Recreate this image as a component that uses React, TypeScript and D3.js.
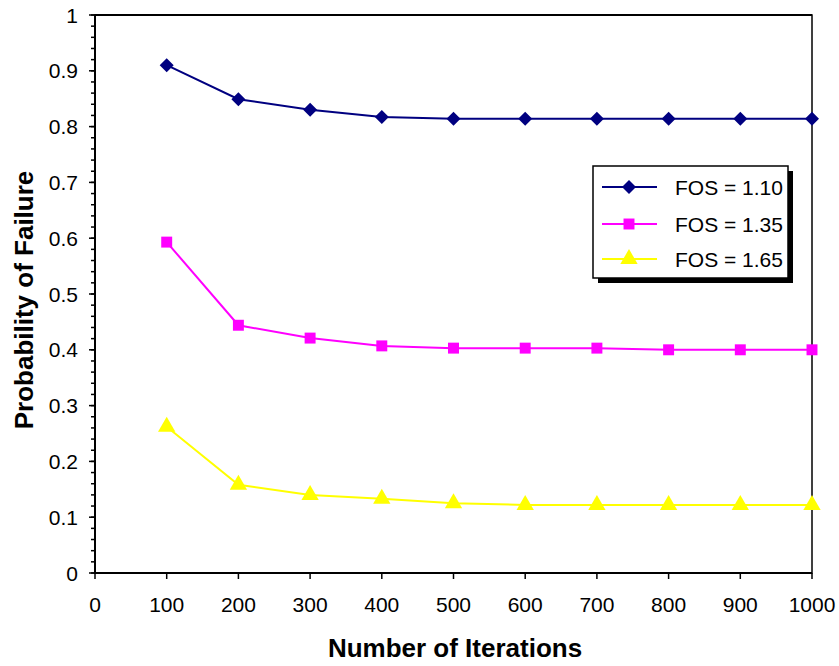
import React from "react";
import * as d3 from "d3";

const iterations = [100, 200, 300, 400, 500, 600, 700, 800, 900, 1000];
const fos110 = [0.91, 0.849, 0.83, 0.817, 0.814, 0.814, 0.814, 0.814, 0.814, 0.814];
const fos135 = [0.593, 0.444, 0.421, 0.407, 0.403, 0.403, 0.403, 0.4, 0.4, 0.4];
const fos165 = [0.262, 0.158, 0.14, 0.133, 0.125, 0.122, 0.122, 0.122, 0.122, 0.122];
const seriesNames = ["FOS = 1.10", "FOS = 1.35", "FOS = 1.65"];
const xTicks = [0, 100, 200, 300, 400, 500, 600, 700, 800, 900, 1000];
const yTicks = [0, 0.1, 0.2, 0.3, 0.4, 0.5, 0.6, 0.7, 0.8, 0.9, 1];

const W = 839;
const H = 666;
const left = 95, right = 812, top = 15, bottom = 573;
const font = "'Liberation Sans', Arial, sans-serif";

const x = d3.scaleLinear().domain([0, 1000]).range([left, right]);
const y = d3.scaleLinear().domain([0, 1]).range([bottom, top]);

const colors = ["#000080", "#ff00ff", "#ffff00"];

// square diamond: equal half-diagonals
const squareDiamond = {
  draw(ctx: any, size: number) {
    const r = Math.sqrt(size / 2);
    ctx.moveTo(0, -r);
    ctx.lineTo(r, 0);
    ctx.lineTo(0, r);
    ctx.lineTo(-r, 0);
    ctx.closePath();
  },
};
const shapes: any[] = [squareDiamond, d3.symbolSquare, d3.symbolTriangle];
const sizes = [98, 120, 130];

function Marker({ i, cx, cy }: { i: number; cx: number; cy: number }) {
  const p = d3.symbol().type(shapes[i]).size(sizes[i])();
  return <path d={p || ""} transform={`translate(${cx},${cy})`} fill={colors[i]} />;
}

export default function App() {
  const data = [fos110, fos135, fos165];
  const line = d3
    .line<number>()
    .x((_, j) => x(iterations[j]))
    .y((v) => y(v));
  const minor = d3.range(0, 1.0001, 0.02);

  const lx = 593, ly = 166, lw = 195, lh = 112;
  const rows = [187, 224, 259];

  return (
    <svg width={W} height={H} style={{ position: "absolute", left: 0, top: 0 }}>
      <rect width={W} height={H} fill="#fff" />
      {/* plot frame */}
      <rect x={left} y={top} width={right - left} height={bottom - top} fill="none" stroke="#000" strokeWidth={1.5} />
      <line x1={left} x2={left} y1={top} y2={bottom} stroke="#000" strokeWidth={2} />
      <line x1={left} x2={right} y1={bottom} y2={bottom} stroke="#000" strokeWidth={2} />
      <line x1={left} x2={right} y1={top} y2={top} stroke="#000" strokeWidth={2} />

      {/* y ticks */}
      {minor.map((v, k) => (
        <line key={"m" + k} x1={left - 4} x2={left} y1={y(v)} y2={y(v)} stroke="#000" strokeWidth={1.5} />
      ))}
      {yTicks.map((v) => (
        <g key={"y" + v}>
          <line x1={left - 6} x2={left} y1={y(v)} y2={y(v)} stroke="#000" strokeWidth={1.5} />
          <text x={left - 17} y={y(v)} dy="0.36em" textAnchor="end" fontFamily={font} fontSize={21}>
            {v === 0 || v === 1 ? String(v) : v.toFixed(1)}
          </text>
        </g>
      ))}

      {/* x ticks */}
      {xTicks.map((v) => (
        <g key={"x" + v}>
          <line x1={x(v)} x2={x(v)} y1={bottom} y2={bottom + 6} stroke="#000" strokeWidth={1.5} />
          <text x={x(v)} y={612} textAnchor="middle" fontFamily={font} fontSize={21}>
            {v}
          </text>
        </g>
      ))}

      {/* series */}
      {data.map((s, i) => (
        <g key={"s" + i}>
          <path d={line(s) || ""} fill="none" stroke={colors[i]} strokeWidth={2} />
          {s.map((v, j) => (
            <Marker key={j} i={i} cx={x(iterations[j])} cy={y(v)} />
          ))}
        </g>
      ))}

      {/* axis titles */}
      <text x={455} y={657} textAnchor="middle" fontFamily={font} fontSize={26} fontWeight="bold">
        Number of Iterations
      </text>
      <text
        transform={`translate(33,300) rotate(-90)`}
        textAnchor="middle"
        fontFamily={font}
        fontSize={26}
        fontWeight="bold"
      >
        Probability of Failure
      </text>

      {/* legend */}
      <rect x={lx + 5} y={ly + 5} width={lw} height={lh} fill="#000" />
      <rect x={lx} y={ly} width={lw} height={lh} fill="#fff" stroke="#000" strokeWidth={1.5} />
      {seriesNames.map((n, i) => (
        <g key={"l" + i}>
          <line x1={602} x2={657} y1={rows[i]} y2={rows[i]} stroke={colors[i]} strokeWidth={2} />
          <Marker i={i} cx={629} cy={rows[i]} />
          <text x={675} y={rows[i]} dy="0.36em" fontFamily={font} fontSize={21}>
            {n}
          </text>
        </g>
      ))}
    </svg>
  );
}
